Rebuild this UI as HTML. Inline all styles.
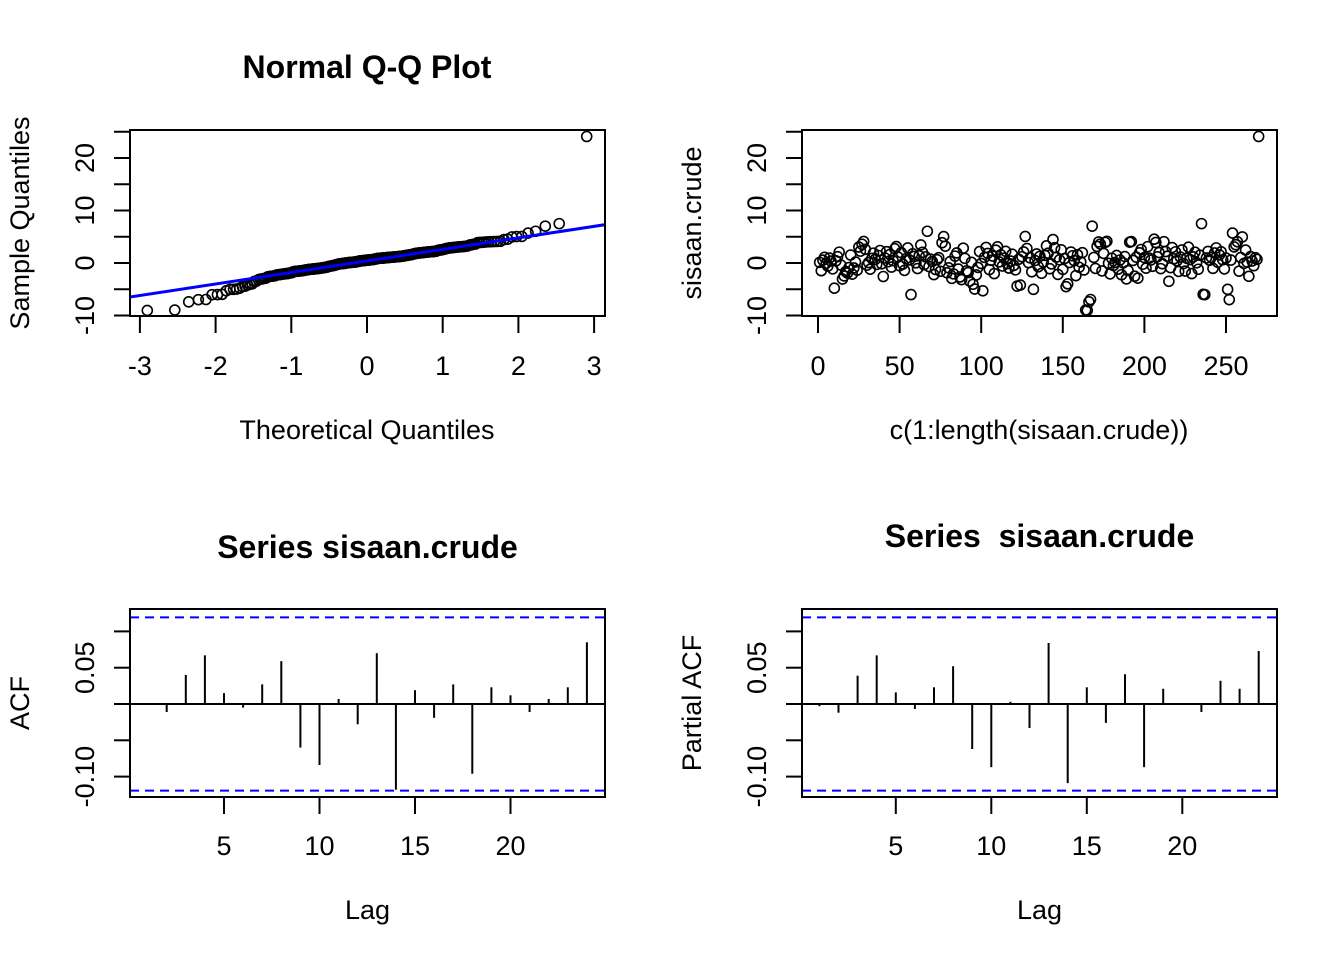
<!DOCTYPE html>
<html><head><meta charset="utf-8"><title>sisaan.crude diagnostics</title>
<style>
html,body{margin:0;padding:0;background:#fff;}
svg{display:block;font-family:"Liberation Sans",Arial,sans-serif;}
</style></head>
<body>
<svg id="chart" width="1344" height="960" viewBox="0 0 1344 960" xmlns="http://www.w3.org/2000/svg">
<rect width="1344" height="960" fill="#fff"/>
<g id="p1"></g>
<g id="p2"></g>
<g id="p3"></g>
<g id="p4"></g>
</svg>
<script>
// ---- data ----
const seriesValues = [
0.12,-1.47,0.53,1.08,-0.06,-0.61,0.94,0.37,-1.12,-4.8,
0.41,1.21,2.07,-0.38,-3.05,-2.46,-1.63,-1.92,-0.87,1.52,
-2.13,-0.94,0.18,-1.37,3.04,2.26,3.57,4.11,2.61,-0.42,
0.09,-1.18,0.86,1.88,0.67,-0.27,1.43,2.38,-0.15,-2.57,
0.96,2.15,0.24,1.62,-0.78,0.45,2.72,3.13,1.14,-0.53,
1.97,-0.21,-1.41,0.83,2.86,0.58,-6.02,1.76,1.25,0.03,
-1.06,1.36,3.44,2.03,-0.33,1.17,6.05,-0.68,0.74,0.31,
-2.21,-1.24,0.63,1.02,-1.58,3.86,5.04,3.21,-1.86,-0.92,
0.27,-2.93,-2.07,1.31,1.92,-1.15,-2.66,-3.18,2.83,0.88,
-1.52,-1.83,-3.46,0.14,-4.05,-4.96,-2.27,-0.84,2.18,-0.09,
-5.3,1.07,2.97,1.82,-1.26,0.52,1.33,-2.02,2.44,3.08,
0.21,1.57,-0.57,0.93,2.23,-0.12,-0.97,0.36,1.68,-0.46,
-1.31,-4.4,0.71,-4.2,1.19,2.11,5.06,2.76,0.06,0.98,
-1.67,-5.02,0.47,1.73,-0.73,1.28,-1.96,0.16,1.47,3.27,
1.87,-1.09,-0.18,4.47,2.91,1.12,-2.17,0.61,2.52,-1.21,
0.84,-4.51,-3.97,0.08,2.09,1.38,0.44,-2.41,1.58,-0.81,
0.19,1.96,-1.33,-8.96,-9.04,-7.4,-6.95,7.02,1.06,-1.04,
3.16,4.02,3.62,-1.51,1.83,3.93,4.14,-0.05,-2.08,0.91,
-0.49,0.11,1.44,-1.16,0.57,-2.24,0.02,1.23,-3.03,-1.44,
3.97,4.08,0.48,-2.52,1.11,-2.89,1.94,2.57,-0.24,1.03,
-0.99,3.12,0.92,0.56,-0.63,4.53,3.91,1.18,1.99,-1.07,
-0.14,4.06,2.17,1.27,-3.48,-0.89,2.94,0.79,2.12,0.43,
-1.61,1.13,2.49,-0.11,-1.54,0.89,3.01,0.66,-2.02,1.16,
2.06,0.04,-1.19,1.48,7.5,-5.97,-6.03,0.97,2.21,0.51,
1.09,-1.02,1.91,2.88,0.13,1.54,2.14,0.62,-1.13,0.95,
-5.02,-6.98,0.55,5.7,3.06,3.48,4.04,-1.55,1.04,4.97,
-0.08,2.46,0.17,-2.54,1.22,0.38,-0.52,1.01,0.69,24.1];
const acfLags = [1,2,3,4,5,6,7,8,9,10,11,12,13,14,15,16,17,18,19,20,21,22,23,24];
const acfValues = [0.001,-0.011,0.040,0.067,0.015,-0.005,0.027,0.059,-0.060,-0.084,0.007,-0.028,0.070,-0.118,0.019,-0.019,0.027,-0.096,0.023,0.012,-0.011,0.007,0.023,0.085];
const pacfValues = [-0.003,-0.012,0.039,0.067,0.016,-0.007,0.023,0.052,-0.062,-0.087,0.003,-0.033,0.084,-0.109,0.023,-0.026,0.041,-0.087,0.021,0.001,-0.011,0.032,0.021,0.073];
const qqTicks = [-3,-2,-1,0,1,2,3];
const valueTicks = [-10,-5,0,5,10,15,20,25];
const valueTickLabels = ["-10","","0","","10","","20",""];
const indexTicks = [0,50,100,150,200,250];
const lagTicks = [5,10,15,20];
const acfTicks = [-0.10,-0.05,0,0.05,0.10];
const acfTickLabels = ["-0.10","","","0.05",""];

const NS="http://www.w3.org/2000/svg";
function el(parent,tag,attrs,text){const e=document.createElementNS(NS,tag);for(const k in attrs)e.setAttribute(k,attrs[k]);if(text!==undefined)e.textContent=text;parent.appendChild(e);return e;}

function qnorm(p){
 const a=[-3.969683028665376e+01,2.209460984245205e+02,-2.759285104469687e+02,1.383577518672690e+02,-3.066479806614716e+01,2.506628277459239e+00];
 const b=[-5.447609879822406e+01,1.615858368580409e+02,-1.556989798598866e+02,6.680131188771972e+01,-1.328068155288572e+01];
 const c=[-7.784894002430293e-03,-3.223964580411365e-01,-2.400758277161838e+00,-2.549732539343734e+00,4.374664141464968e+00,2.938163982698783e+00];
 const d=[7.784695709041462e-03,3.224671290700398e-01,2.445134137142996e+00,3.754408661907416e+00];
 const pl=0.02425;let q,r;
 if(p<pl){q=Math.sqrt(-2*Math.log(p));return (((((c[0]*q+c[1])*q+c[2])*q+c[3])*q+c[4])*q+c[5])/((((d[0]*q+d[1])*q+d[2])*q+d[3])*q+1);}
 if(p>1-pl){q=Math.sqrt(-2*Math.log(1-p));return -(((((c[0]*q+c[1])*q+c[2])*q+c[3])*q+c[4])*q+c[5])/((((d[0]*q+d[1])*q+d[2])*q+d[3])*q+1);}
 q=p-0.5;r=q*q;return (((((a[0]*r+a[1])*r+a[2])*r+a[3])*r+a[4])*r+a[5])*q/(((((b[0]*r+b[1])*r+b[2])*r+b[3])*r+b[4])*r+1);
}
function quantile(sorted,p){const h=(sorted.length-1)*p,lo=Math.floor(h);return sorted[lo]+(h-lo)*((sorted[Math.min(lo+1,sorted.length-1)])-sorted[lo]);}

const FS=27, TFS=32;
function box(g,x0,y0,x1,y1){const b=el(g,'rect',{x:x0,y:y0,width:x1-x0,height:y1-y0,fill:'none',stroke:'#000','stroke-width':2});}
function xAxis(g,ticks,labels,xf,yb,labY){
 const ln=el(g,'line',{x1:xf(ticks[0]),x2:xf(ticks[ticks.length-1]),y1:yb,y2:yb,stroke:'#000','stroke-width':2});
 
 ticks.forEach((t,i)=>{
  const tk=el(g,'line',{x1:xf(t),x2:xf(t),y1:yb,y2:yb+17,stroke:'#000','stroke-width':2});
  
  const tl=el(g,'text',{x:xf(t),y:labY,'font-size':FS,'text-anchor':'middle'},labels[i]);
  
 });
}
function yAxis(g,ticks,labels,yf,xl,labX){
 const ln=el(g,'line',{x1:xl,x2:xl,y1:yf(ticks[0]),y2:yf(ticks[ticks.length-1]),stroke:'#000','stroke-width':2});
 
 ticks.forEach((t,i)=>{
  const tk=el(g,'line',{x1:xl-16,x2:xl,y1:yf(t),y2:yf(t),stroke:'#000','stroke-width':2});
  
  if(labels[i]){const tl=el(g,'text',{x:labX,y:yf(t),'font-size':FS,'text-anchor':'middle','dominant-baseline':'central',transform:`rotate(-90 ${labX} ${yf(t)})`},labels[i]);
  }
 });
}
function title(g,x,y,t){const e=el(g,'text',{x:x,y:y,'font-size':TFS,'font-weight':'bold','text-anchor':'middle','xml:space':'preserve',style:'white-space:pre'},t);}
function xTitle(g,x,y,t){const e=el(g,'text',{x:x,y:y,'font-size':FS,'text-anchor':'middle'},t);}
function yTitle(g,x,y,t){const e=el(g,'text',{x:x,y:y,'font-size':FS,'text-anchor':'middle','dominant-baseline':'central',transform:`rotate(-90 ${x} ${y})`},t);}

const yv=v=>263-5.25*v;

// ---- Panel 1: QQ ----
(function(){
 const g=document.getElementById('p1');
 const xq=t=>367+75.7*t;
 const n=seriesValues.length;
 const sorted=seriesValues.slice().sort((a,b)=>a-b);
 const a=n<=10?3/8:0.5;
 const cp=el(g,'clipPath',{id:'clip1'});el(cp,'rect',{x:130,y:130,width:475,height:186});
 sorted.forEach((v,i)=>{
  const t=qnorm((i+1-a)/(n+1-2*a));
  const c=el(g,'circle',{cx:xq(t),cy:yv(v),r:5,fill:'none',stroke:'#000','stroke-width':1.6});
  
 });
 const q1=quantile(sorted,0.25),q3=quantile(sorted,0.75),z1=qnorm(0.25),z3=qnorm(0.75);
 const slope=(q3-q1)/(z3-z1),icpt=q1-slope*z1;
 const tl=-3.3,tr=3.3;
 const ln=el(g,'line',{x1:xq(tl),y1:yv(icpt+slope*tl),x2:xq(tr),y2:yv(icpt+slope*tr),stroke:'#0000ff','stroke-width':3,'clip-path':'url(#clip1)'});
 
 box(g,130,130,605,316);
 xAxis(g,qqTicks,qqTicks.map(String),xq,316,375);
 yAxis(g,valueTicks,valueTickLabels,yv,130,85);
 title(g,367,78,'Normal Q-Q Plot');
 xTitle(g,367,439,'Theoretical Quantiles');
 yTitle(g,20,223,'Sample Quantiles');
})();

// ---- Panel 2: index plot ----
(function(){
 const g=document.getElementById('p2');
 const xi=i=>818+1.632*i;
 seriesValues.forEach((v,i)=>{
  const c=el(g,'circle',{cx:xi(i+1),cy:yv(v),r:5,fill:'none',stroke:'#000','stroke-width':1.6});
  
 });
 box(g,802,130,1277,316);
 xAxis(g,indexTicks,indexTicks.map(String),xi,316,375);
 yAxis(g,valueTicks,valueTickLabels,yv,802,757);
 xTitle(g,1039,439,'c(1:length(sisaan.crude))');
 yTitle(g,692,223,'sisaan.crude');
})();

// ---- ACF / PACF ----
function corrPanel(id,vals,x0,x1,xOrig,ttl,ttlY,ylab,barName){
 const g=document.getElementById(id);
 const xl=l=>xOrig+19.1*l;
 const ya=v=>704-726*v;
 const ci=1.96/Math.sqrt(seriesValues.length);
 const z=el(g,'line',{x1:x0,x2:x1,y1:ya(0),y2:ya(0),stroke:'#000','stroke-width':2});
 
 [ci,-ci].forEach(c=>{
  const d=el(g,'line',{x1:x0,x2:x1,y1:ya(c),y2:ya(c),stroke:'#0000ff','stroke-width':2,'stroke-dasharray':'9,6'});
  
 });
 vals.forEach((v,i)=>{
  const b=el(g,'line',{x1:xl(acfLags[i]),x2:xl(acfLags[i]),y1:ya(0),y2:ya(v),stroke:'#000','stroke-width':2});
  
 });
 box(g,x0,609,x1,797);
 xAxis(g,lagTicks,lagTicks.map(String),xl,797,855);
 yAxis(g,acfTicks,acfTickLabels,ya,x0,x0-45);
 title(g,(x0+x1)/2,ttlY,ttl);
 xTitle(g,(x0+x1)/2,919,'Lag');
 yTitle(g,x0-110,703,ylab);
}
corrPanel('p3',acfValues,130,605,128.5,'Series sisaan.crude',558,'ACF','acf-bar');
corrPanel('p4',pacfValues,802,1277,800.3,'Series  sisaan.crude',547,'Partial ACF','pacf-bar');
</script>
</body></html>
